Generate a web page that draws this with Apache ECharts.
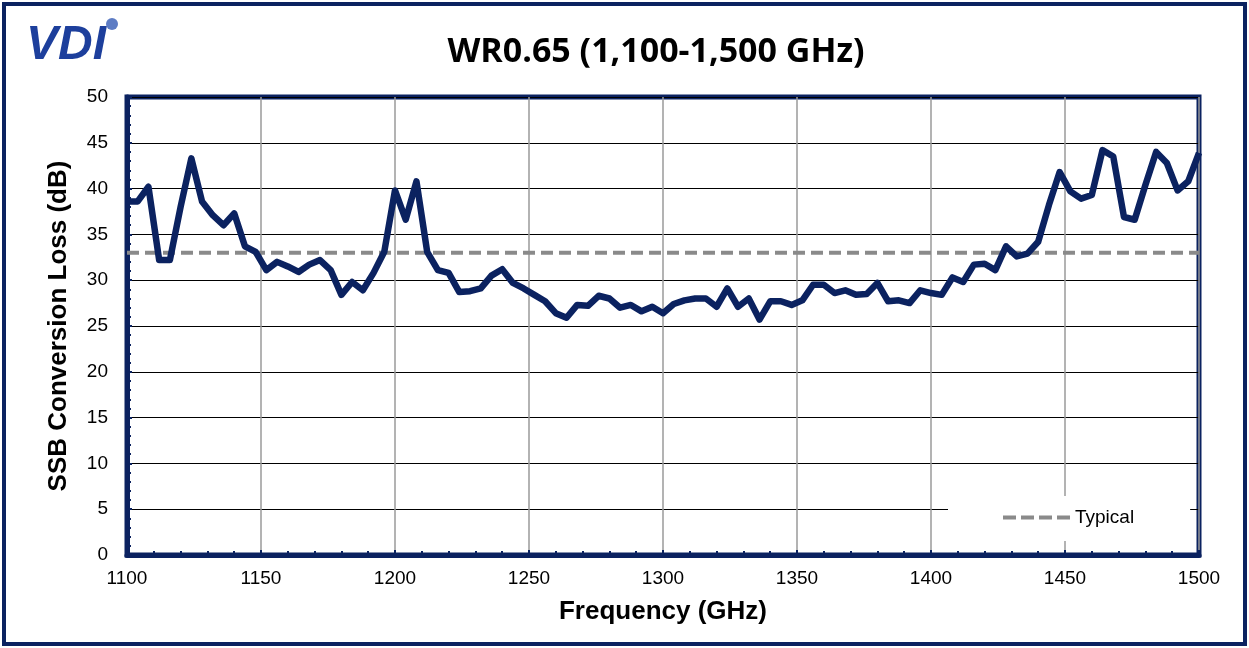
<!DOCTYPE html>
<html>
<head>
<meta charset="utf-8">
<script src="https://cdn.jsdelivr.net/npm/echarts@6/dist/echarts.min.js"></script>
<style>
  html, body { margin: 0; padding: 0; background: #fff; }
  #chart { width: 1249px; height: 648px; }
</style>
</head>
<body>
<div id="chart"></div>
<script>
// frequency points (GHz)
var freq = [
  1100, 1104, 1108, 1112, 1116, 1120, 1124, 1128, 1132, 1136, 1140, 1144, 1148, 1152, 1156, 1160, 1164,
  1168, 1172, 1176, 1180, 1184, 1188, 1192, 1196, 1200, 1204, 1208, 1212, 1216, 1220, 1224, 1228, 1232,
  1236, 1240, 1244, 1248, 1252, 1256, 1260, 1264, 1268, 1272, 1276, 1280, 1284, 1288, 1292, 1296, 1300,
  1304, 1308, 1312, 1316, 1320, 1324, 1328, 1332, 1336, 1340, 1344, 1348, 1352, 1356, 1360, 1364, 1368,
  1372, 1376, 1380, 1384, 1388, 1392, 1396, 1400, 1404, 1408, 1412, 1416, 1420, 1424, 1428, 1432, 1436,
  1440, 1444, 1448, 1452, 1456, 1460, 1464, 1468, 1472, 1476, 1480, 1484, 1488, 1492, 1496, 1500
];
// SSB conversion loss (dB)
var loss = [
  38.6, 38.6, 40.2, 32.2, 32.2, 38.0, 43.3, 38.6, 37.1, 36.0, 37.3, 33.7, 33.1, 31.1, 32.0, 31.5, 30.9,
  31.7, 32.2, 31.1, 28.4, 29.8, 28.9, 30.8, 33.1, 39.8, 36.6, 40.8, 33.1, 31.1, 30.8, 28.7, 28.8, 29.1,
  30.5, 31.2, 29.7, 29.1, 28.4, 27.7, 26.4, 25.9, 27.3, 27.2, 28.3, 28.0, 27.0, 27.3, 26.6, 27.1, 26.4,
  27.4, 27.8, 28.0, 28.0, 27.1, 29.1, 27.1, 28.0, 25.7, 27.7, 27.7, 27.3, 27.8, 29.5, 29.5, 28.6, 28.9,
  28.4, 28.5, 29.7, 27.7, 27.8, 27.5, 28.9, 28.6, 28.4, 30.3, 29.8, 31.7, 31.8, 31.1, 33.7, 32.6, 32.9,
  34.2, 38.2, 41.8, 39.7, 38.9, 39.3, 44.2, 43.5, 36.9, 36.6, 40.4, 44.0, 42.8, 39.8, 40.8, 43.9
];
var typicalFreq = [1100, 1500];
var typicalLoss = [33, 33];

var navy = "#0b2260";
var gray = "#8a8a8a";

// legend icon: four dashes, same look as the typical line
var dashIcon = "path://M0,0h13v4h-13z M18,0h13v4h-13z M36,0h13v4h-13z M54,0h13v4h-13z";

var chart = echarts.init(document.getElementById("chart"));
chart.setOption({
  animation: false,
  backgroundColor: "#fff",
  textStyle: { fontFamily: "Liberation Sans, Arial, sans-serif" },
  graphic: [
    {
      type: "rect",
      shape: { x: 4, y: 4, width: 1241, height: 640 },
      style: { fill: "none", stroke: navy, lineWidth: 4 },
      z: 0
    },
    {
      type: "text",
      x: 656, y: 52,
      style: {
        text: "WR0.65 (1,100-1,500 GHz)",
        font: "bold 34px 'Open Sans', sans-serif",
        fill: "#000",
        align: "center",
        verticalAlign: "middle"
      }
    },
    {
      type: "text",
      x: 26, y: 22,
      style: {
        text: "VDI",
        font: "italic 900 48px 'Liberation Sans', sans-serif",
        fill: "#1d3f9c"
      }
    },
    {
      type: "circle",
      shape: { cx: 112, cy: 24, r: 6 },
      style: { fill: "#5d7cc4" }
    }
  ],
  grid: {
    left: 127, right: 50, top: 97, bottom: 93,
    show: true, borderColor: navy, borderWidth: 5
  },
  legend: {
    left: 948, top: 496,
    backgroundColor: "#fff",
    padding: [12, 56, 14, 55],
    itemWidth: 67, itemHeight: 4, itemGap: 10,
    textStyle: { fontSize: 19, color: "#000" },
    data: [{ name: "Typical", icon: dashIcon, itemStyle: { color: gray } }]
  },
  xAxis: {
    type: "value",
    min: 1100, max: 1500, interval: 50,
    name: "Frequency (GHz)",
    nameLocation: "middle",
    nameGap: 44,
    nameTextStyle: { fontSize: 26, fontWeight: "bold", color: "#000" },
    axisLine: { lineStyle: { color: navy, width: 5 } },
    axisTick: { inside: true, length: 5, lineStyle: { color: navy, width: 2 } },
    minorTick: { show: true, splitNumber: 5, length: 4, lineStyle: { color: navy, width: 2 } },
    axisLabel: { fontSize: 19, color: "#000", margin: 14, formatter: function (v) { return String(v); } },
    splitLine: { show: true, lineStyle: { color: "#9a9a9a", width: 1.5 } }
  },
  yAxis: {
    type: "value",
    min: 0, max: 50, interval: 5,
    name: "SSB Conversion Loss (dB)",
    nameLocation: "middle",
    nameGap: 55,
    nameTextStyle: { fontSize: 26, fontWeight: "bold", color: "#000" },
    axisLine: { show: true, lineStyle: { color: navy, width: 5 } },
    axisTick: { show: true, inside: true, length: 5, lineStyle: { color: navy, width: 2 } },
    minorTick: { show: true, splitNumber: 5, length: 4, lineStyle: { color: navy, width: 2 } },
    axisLabel: { fontSize: 19, color: "#000", margin: 19 },
    splitLine: { show: true, lineStyle: { color: "#000", width: 1 } }
  },
  series: [
    {
      name: "Loss",
      type: "line",
      data: freq.map(function (f, i) { return [f, loss[i]]; }),
      symbol: "none",
      lineStyle: { color: navy, width: 6.5, join: "round" },
      itemStyle: { color: navy },
      z: 3
    },
    {
      name: "Typical",
      type: "line",
      data: typicalFreq.map(function (f, i) { return [f, typicalLoss[i]]; }),
      symbol: "none",
      lineStyle: { color: gray, width: 4, type: [12, 6] },
      itemStyle: { color: gray },
      z: 2
    }
  ]
});
</script>
</body>
</html>
